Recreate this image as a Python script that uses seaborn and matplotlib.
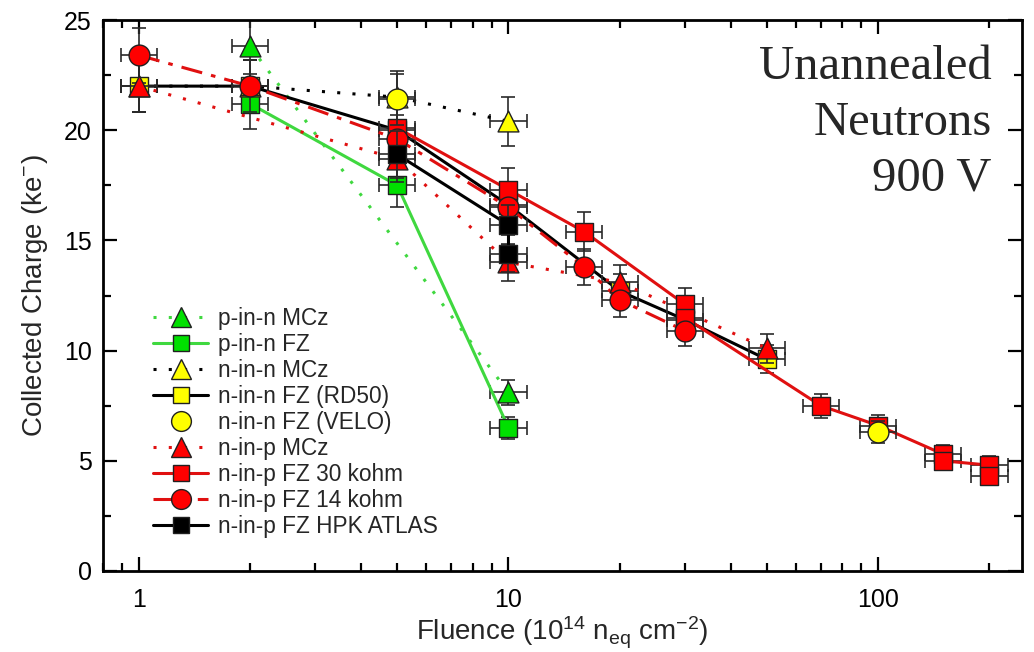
import numpy as np
import pandas as pd
import matplotlib
matplotlib.use("Agg")
import matplotlib.pyplot as plt
from matplotlib.lines import Line2D
from matplotlib.ticker import LogLocator, MultipleLocator, FixedLocator, NullFormatter
import seaborn as sns

# ---------------- data ----------------
pin_mcz_x = [2, 10]
pin_mcz_y = [23.8, 8.1]

pin_fz_x = [2, 5, 10]
pin_fz_y = [21.2, 17.5, 6.5]

nin_mcz_x = [1, 2, 5, 10]
nin_mcz_y = [22.0, 22.0, 21.5, 20.4]

nin_rd50_x = [1, 2, 5, 10, 20, 30, 50]
nin_rd50_y = [22.0, 22.0, 20.0, 16.6, 12.7, 11.4, 9.6]

nin_velo_x = [5, 100]
nin_velo_y = [21.4, 6.3]

nip_mcz_x = [1, 5, 10, 20, 50]
nip_mcz_y = [22.0, 18.7, 14.0, 13.1, 10.1]

nip_fz30_x = [5, 10, 16, 30, 30, 70, 100, 150, 150, 200, 200]
nip_fz30_y = [20.1, 17.3, 15.4, 12.1, 11.5, 7.5, 6.6, 5.3, 5.0, 4.8, 4.3]

nip_fz14_x = [1, 2, 5, 10, 16, 20, 30]
nip_fz14_y = [23.4, 22.0, 19.6, 16.5, 13.8, 12.3, 10.9]

nip_hpk_x = [5, 10, 10]
nip_hpk_y = [18.9, 15.7, 14.4]

labels = ["p-in-n MCz", "p-in-n FZ", "n-in-n MCz", "n-in-n FZ (RD50)",
          "n-in-n FZ (VELO)", "n-in-p MCz", "n-in-p FZ 30 kohm",
          "n-in-p FZ 14 kohm", "n-in-p FZ HPK ATLAS"]

x_ticks = [1, 10, 100]
x_tick_labels = ["1", "10", "100"]
y_ticks = [0, 5, 10, 15, 20, 25]

X_REL_ERR = 0.12     # relative fluence uncertainty
Y_REL_ERR = 0.045    # relative charge uncertainty
Y_ABS_ERR = 0.2

# ---------------- style ----------------
sns.set_theme(style="ticks")
plt.rcParams["font.family"] = ["Liberation Sans", "DejaVu Sans"]
plt.rcParams["mathtext.default"] = "regular"

GREEN = "#00e000"
GREEN_LINE = "#3fd83f"
YELLOW = "#ffff00"
RED = "#ff0000"
RED_LINE = "#e01010"
BLACK = "#000000"

series = [
    # x, y, label, line color, linestyle, marker, face, size, draw line, zorder
    (pin_mcz_x, pin_mcz_y, labels[0], GREEN_LINE, (0, (1, 4)), "^", GREEN, 15, True, 3),
    (pin_fz_x, pin_fz_y, labels[1], GREEN_LINE, "-", "s", GREEN, 12.5, True, 3),
    (nin_mcz_x, nin_mcz_y, labels[2], BLACK, (0, (1, 4)), "^", YELLOW, 15, True, 3),
    (nin_rd50_x, nin_rd50_y, labels[3], BLACK, "-", "s", YELLOW, 12.5, True, 3),
    (nin_velo_x, nin_velo_y, labels[4], BLACK, "none", "o", YELLOW, 15, False, 6),
    (nip_mcz_x, nip_mcz_y, labels[5], RED_LINE, (0, (1, 4)), "^", RED, 15, True, 4),
    (nip_fz30_x, nip_fz30_y, labels[6], RED_LINE, "-", "s", RED, 12.5, True, 4),
    (nip_fz14_x, nip_fz14_y, labels[7], RED_LINE, (0, (7, 3, 1.5, 3)), "o", RED, 15, True, 4),
    (nip_hpk_x, nip_hpk_y, labels[8], BLACK, "-", "s", BLACK, 12.5, True, 5),
]

fig = plt.figure(figsize=(10.34, 6.52), dpi=100)
ax = fig.add_axes([103 / 1034, 1 - 571 / 652, (1022 - 103) / 1034, (571 - 20) / 652])

handles = []
for i, (xs, ys, lab, lc, ls, mk, fc, ms, draw_line, z) in enumerate(series):
    df = pd.DataFrame({"x": xs, "y": ys})
    xa = np.array(xs, dtype=float)
    ya = np.array(ys, dtype=float)
    xerr = np.vstack([xa - xa / (1 + X_REL_ERR), xa * X_REL_ERR])
    yerr = Y_REL_ERR * ya + Y_ABS_ERR
    ax.errorbar(xa, ya, xerr=xerr, yerr=yerr, fmt="none", ecolor="#2a2a2a",
                elinewidth=1.2, capsize=5, capthick=1.2, zorder=z - 0.5)
    if draw_line:
        sns.lineplot(data=df, x="x", y="y", ax=ax, estimator=None, sort=False,
                     color=lc, linewidth=2.2, linestyle=ls, zorder=z - 0.4,
                     legend=False)
    sns.scatterplot(data=df, x="x", y="y", ax=ax, marker=mk, s=ms ** 2,
                    color=fc, edgecolor="#202020", linewidth=1.0, zorder=z,
                    legend=False)
    handles.append(Line2D([0], [0], color=lc, linestyle=ls if draw_line else "none",
                          linewidth=2.2, marker=mk, markersize=ms * 0.95,
                          markerfacecolor=fc, markeredgecolor="#202020",
                          markeredgewidth=1.0, label=lab))

ax.set_xscale("log")
ax.set_xlim(0.8, 245)
ax.set_ylim(0, 25)

ax.xaxis.set_major_locator(FixedLocator(x_ticks))
ax.set_xticklabels(x_tick_labels)
ax.xaxis.set_minor_locator(LogLocator(base=10, subs=np.arange(2, 10) / 1.0, numticks=20))
ax.xaxis.set_minor_formatter(NullFormatter())
ax.yaxis.set_major_locator(FixedLocator(y_ticks))
ax.yaxis.set_minor_locator(MultipleLocator(2.5))

ax.tick_params(which="both", direction="in", top=True, right=True, width=1.6,
               colors="black", labelsize=18)
ax.tick_params(which="major", length=10, pad=8)
ax.tick_params(which="minor", length=6)
ax.tick_params(axis="x", which="major", pad=12)

for sp in ax.spines.values():
    sp.set_visible(True)
    sp.set_linewidth(2.0)
    sp.set_color("black")

ax.set_xlabel("Fluence (10$^{14}$ n$_{eq}$ cm$^{-2}$)", fontsize=20, labelpad=2)
ax.set_ylabel("Collected Charge (ke$^{-}$)", fontsize=20, labelpad=10)

ax.text(0.967, 0.955, "Unannealed\nNeutrons\n900 V", transform=ax.transAxes,
        ha="right", va="top", multialignment="right", fontsize=35,
        family=["Liberation Serif", "DejaVu Serif"], linespacing=1.35)

leg = ax.legend(handles=handles, loc="upper left", bbox_to_anchor=(0.045, 0.495),
                frameon=False, fontsize=16.3, handlelength=2.4, handletextpad=0.45,
                labelspacing=0.13, borderaxespad=0)

fig.savefig("out.png", dpi=100, facecolor="white")
